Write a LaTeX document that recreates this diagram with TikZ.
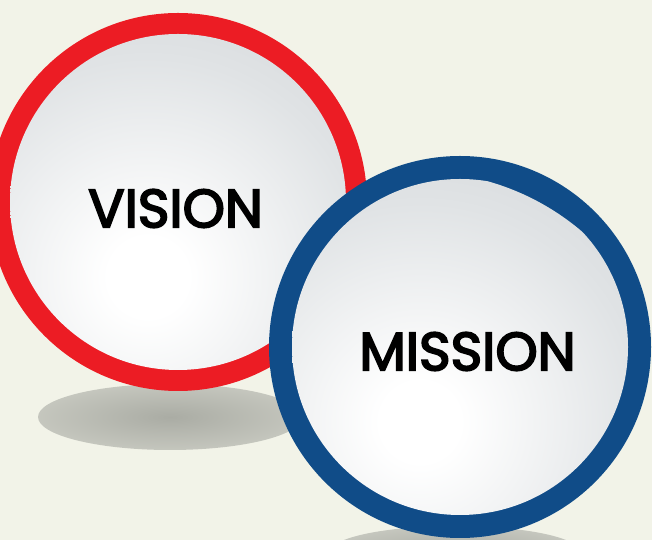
\documentclass[tikz,border=0pt]{standalone}
\usepackage{fontspec}
\newfontfamily\ringfont{Poppins}[FakeBold=3.5]
\usepackage{xcolor}
\definecolor{Backdrop}{RGB}{242,243,232}
\definecolor{VisionRed}{RGB}{236,28,36}
\definecolor{MissionBlue}{RGB}{16,76,136}
\definecolor{SphereGrey}{RGB}{192,195,198}
\definecolor{SphereMid}{RGB}{224,227,229}
\definecolor{ShadowDark}{RGB}{170,172,164}
\definecolor{ShadowLight}{RGB}{228,229,220}
\usetikzlibrary{calc}
\pgfdeclareradialshading{sphere}{\pgfpoint{0bp}{0bp}}{color(0bp)=(white); color(4bp)=(white); color(22bp)=(SphereMid); color(50bp)=(SphereGrey)}
\pgfdeclareradialshading{dropshadow}{\pgfpoint{0bp}{0bp}}{color(0bp)=(ShadowDark); color(22bp)=(ShadowLight!40!ShadowDark); color(50bp)=(ShadowLight)}
\tikzset{
  ringlabel/.style={inner sep=0pt, font=\ringfont\fontsize{54}{54}\selectfont, text=black},
}

\begin{document}
\begin{tikzpicture}[x=1bp, y=1bp]

\fill[Backdrop] (0,0) rectangle (652,540);
\useasboundingbox (0,0) rectangle (652,540);

\coordinate (V) at (178, 338);
\coordinate (M) at (460, 193);

% shadows on the ground
\shade[shading=dropshadow] (170, 123) ellipse (132 and 33);

% vision ball
\fill[VisionRed] (V) circle (189);
\begin{scope}
  \clip (V) circle (168);
  \shade[shading=sphere] ($(V)+(-30,-75)$) circle (250);
\end{scope}

\shade[shading=dropshadow] (455, -12) ellipse (125 and 26);

% mission ball
\fill[MissionBlue] (M) circle (191);
\begin{scope}
  \clip (M) circle (168);
  \shade[shading=sphere] ($(M)+(-40,-75)$) circle (250);
\end{scope}

\node[ringlabel] (vision) at (175.5, 331.5) {VISION};
\node[ringlabel] (mission) at (467.5, 188.5) {MISSION};

\end{tikzpicture}
\end{document}
